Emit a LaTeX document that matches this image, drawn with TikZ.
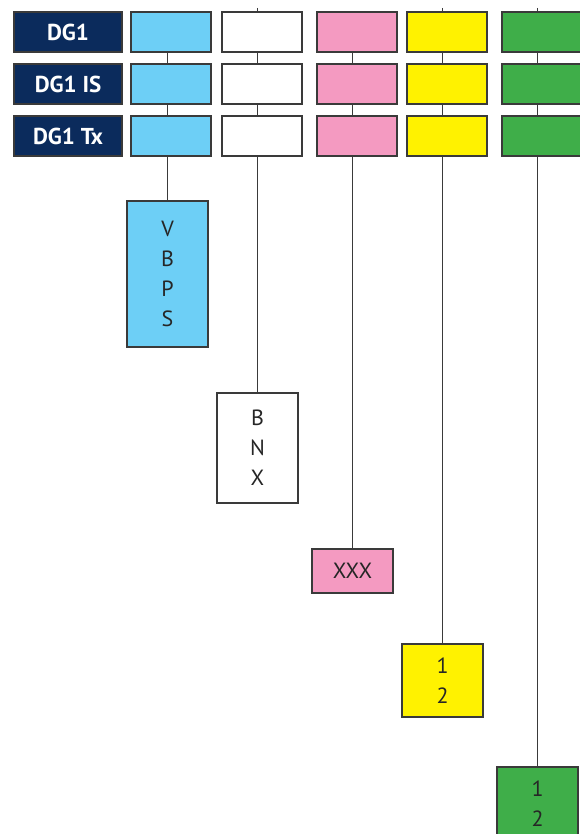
\documentclass[tikz,border=0pt]{standalone}
\usepackage{fontspec}
\setmainfont{PT Sans}
\usetikzlibrary{positioning}
\definecolor{dgnavy}{HTML}{0B2B5C}
\definecolor{dgblue}{HTML}{6DCFF6}
\definecolor{dgpink}{HTML}{F49AC1}
\definecolor{dgyellow}{HTML}{FFF200}
\definecolor{dggreen}{HTML}{3FAE49}
\definecolor{dgline}{HTML}{3A3A3A}
\tikzset{
  tag/.style={fill=dgnavy,draw=dgline,line width=1.2pt,text=white,inner sep=0pt,
    minimum width=108pt,minimum height=40pt,font=\bfseries\fontsize{23}{23}\selectfont},
  cell/.style={draw=dgline,line width=1.6pt,inner sep=0pt,minimum width=80pt,minimum height=40pt},
  drop/.style={draw=dgline,line width=1.6pt,inner sep=0pt,minimum width=81pt,align=center,
    text=black!85,font=\fontsize{22}{30}\selectfont},
  link/.style={draw=dgline,line width=1.5pt}
}
\begin{document}
\begin{tikzpicture}[x=1pt,y=-1pt]
\useasboundingbox (0,0) rectangle (580,834);
\clip (0,0) rectangle (580,834);
% row labels
\node[tag] (t1) at (68,32) {DG1};
\node[tag] (t2) at (68,84) {DG1 IS};
\node[tag] (t3) at (68,136) {DG1 Tx};
% colour columns
\foreach \c/\x/\col in {b/171/dgblue,w/262/white,p/357/dgpink,y/447/dgyellow,g/542/dggreen}{
  \node[cell,fill=\col] (\c1) at (\x,32) {};
  \node[cell,fill=\col] (\c2) at (\x,84) {};
  \node[cell,fill=\col] (\c3) at (\x,136) {};
}
% boxes below
\node[drop,fill=dgblue,minimum height=146pt] (vbps) at (167.5,274) {V\\B\\P\\S};
\node[drop,fill=white,minimum height=110pt] (bnx) at (257.5,448) {B\\N\\X};
\node[drop,fill=dgpink,minimum height=44pt] (xxx) at (352.5,571) {XXX};
\node[drop,fill=dgyellow,minimum height=73pt] (one) at (442.5,680.5) {1\\2};
\node[drop,fill=dggreen,minimum height=73pt] (two) at (537.5,803.5) {1\\2};
% links
\foreach \c/\d in {b/vbps,w/bnx,p/xxx,y/one,g/two}{
  \draw[link] (\d.north |- \c1.south) -- (\d.north |- \c2.north);
  \draw[link] (\d.north |- \c2.south) -- (\d.north |- \c3.north);
  \draw[link] (\d.north |- \c3.south) -- (\d.north);
}
\coordinate (wtop) at (257.5,8);
\coordinate (ytop) at (442.5,8);
\coordinate (gtop) at (537.5,8);
\draw[link] (wtop) -- (wtop |- w1.north);
\draw[link] (ytop) -- (ytop |- y1.north);
\draw[link] (gtop) -- (gtop |- g1.north);
\end{tikzpicture}
\end{document}
